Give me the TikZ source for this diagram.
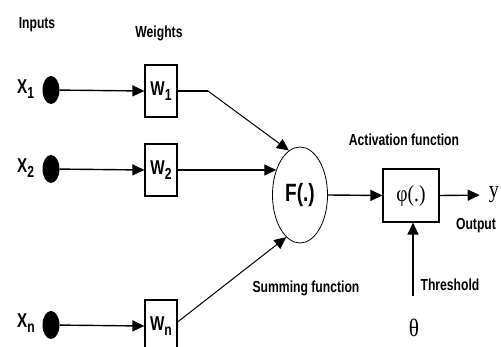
\documentclass[tikz,border=0pt]{standalone}
\usepackage{fontspec}
\setmainfont{Liberation Sans}
\newfontfamily\condf[FakeStretch=0.76]{Liberation Sans}
\newfontfamily\serff[FakeStretch=0.85]{Liberation Serif}
\usetikzlibrary{arrows.meta,shapes.geometric}
\newcommand{\lsub}[1]{\raisebox{-4.5pt}{\fontsize{16}{16}\selectfont #1}}
\begin{document}
\begin{tikzpicture}[x=1pt,y=-1pt,
  lbl/.style={font=\condf\bfseries\fontsize{16}{16}\selectfont, inner sep=0},
  var/.style={font=\condf\bfseries\fontsize{20}{20}\selectfont, inner sep=0, anchor=west},
  wbox/.style={draw, line width=1.2pt, minimum width=32pt, minimum height=52pt, inner sep=0,
               font=\condf\bfseries\fontsize{20}{20}\selectfont},
  dotnode/.style={ellipse, fill=black, minimum width=17pt, minimum height=28pt, inner sep=0},
  arr/.style={line width=1.4pt, -{Triangle[length=12pt,width=11pt]}},
  darr/.style={line width=1pt, -{Triangle[length=12pt,width=11pt]}},
  conn/.style={line width=1.4pt},
]
\clip (0,0) rectangle (501,347);
\fill[white] (0,0) rectangle (501,347);

% headings
\node[lbl] (inputs) at (37,25) {Inputs};
\node[lbl] (weights) at (159,33) {Weights};
\node[lbl] (act) at (404,140) {Activation function};
\node[lbl] (sum) at (306,288) {Summing function};
\node[lbl] (outl) at (476,226) {Output};
\node[lbl] (thr) at (450,285) {Threshold};

% inputs
\node[var] (x1) at (17,89) {X\lsub{1}};
\node[var] (x2) at (17,168) {X\lsub{2}};
\node[var] (xn) at (17,323) {X\lsub{n}};
\node[dotnode] (d1) at (51,90) {};
\node[dotnode] (d2) at (51,169) {};
\node[dotnode] (dn) at (51,325) {};

% weights
\node[wbox] (W1) at (161,91) {W\lsub{1}};
\node[wbox] (W2) at (161,170) {W\lsub{2}};
\node[wbox] (Wn) at (161,326) {W\lsub{n}};

% summing and activation
\node[ellipse, draw, line width=0.8pt, minimum width=55pt, minimum height=96pt, inner sep=0,
      font=\condf\bfseries\fontsize{25}{25}\selectfont] (F) at (300,195) {F(.)};
\node[draw, line width=1.2pt, minimum width=56pt, minimum height=53pt, inner sep=0,
      font=\serff\fontsize{23}{23}\selectfont] (phi) at (411,195.5) {φ(.)};
\node[font=\serff\fontsize{24}{24}\selectfont, inner sep=0] (yl) at (494,195) {y};
\node[font=\serff\fontsize{25}{25}\selectfont, inner sep=0] (theta) at (414,328) {θ};

\coordinate (b1) at (208,91);
\coordinate (th) at (413,296);

% connectors
\draw[arr] (d1) -- (W1.west);
\draw[arr] (d2) -- (W2.west);
\draw[arr] (dn) -- (Wn.west);
\draw[conn] (W1.east) -- (b1);
\draw[darr] (b1) -- (F.104);
\draw[arr] (W2.east) -- (W2.east -| F.133);
\draw[darr] ([yshift=4pt]Wn.east) -- (F.252);
\draw[arr] (F.east) -- (phi.west);
\draw[arr, shorten >=9pt] (phi.east) -- (yl.west);
\draw[arr] (th) -- (th |- phi.south);
\end{tikzpicture}
\end{document}
